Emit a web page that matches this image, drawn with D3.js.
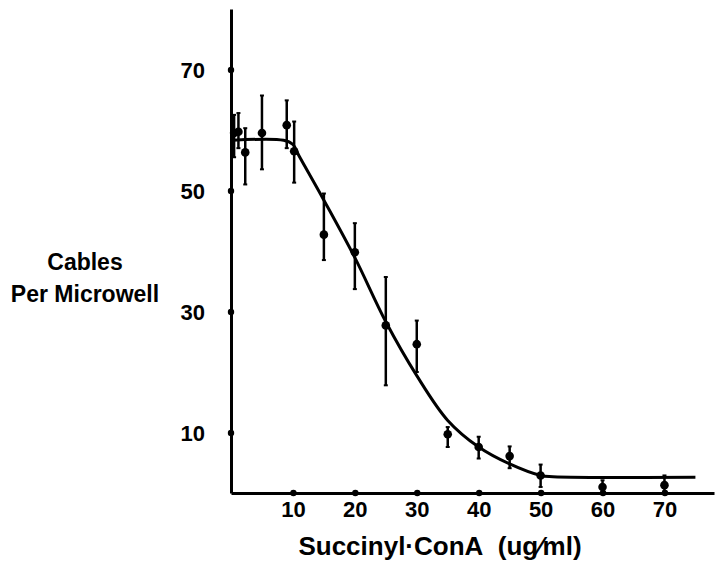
<!DOCTYPE html>
<html>
<head>
<meta charset="utf-8">
<script src="https://cdn.jsdelivr.net/npm/d3@7"></script>
<style>
  body { margin: 0; background: #fff; }
  svg text { font-family: "Liberation Sans", Arial, sans-serif; font-weight: bold; fill: #000; }
</style>
</head>
<body>
<div id="chart"></div>
<script>
// Data
var dose = [0.5, 1.2, 2.3, 5, 9, 10.2, 15, 20, 25, 30, 35, 40, 45, 50, 60, 70];
var cables = [59.5, 59.7, 56.3, 59.5, 60.8, 56.5, 42.7, 39.8, 27.7, 24.6, 9.7, 7.6, 6.1, 2.9, 1.0, 1.3];
var errLow = [55.5, 57, 51, 53.5, 57, 51.3, 38.5, 33.7, 17.8, 20, 7.6, 5.7, 4.1, 1.0, 0, 0.3];
var errHigh = [62.5, 62.8, 60.3, 65.7, 64.9, 61.4, 49.5, 44.6, 35.7, 28.5, 10.9, 9.3, 7.7, 4.7, 2.1, 2.9];

// fitted curve
var curveDose = [0.3, 8.5, 10, 11, 15, 20, 25, 30, 35, 40, 45, 50, 52, 75];
var curveCables = [58.3, 58.3, 57.6, 55.7, 48.4, 38.9, 28.3, 19.4, 12.0, 7.6, 4.8, 2.9, 2.7, 2.6];

var xTicks = [10, 20, 30, 40, 50, 60, 70];
var yTicks = [10, 30, 50, 70];

var render = function() {
  var width = 716;
  var height = 561;
  var margins = { top: 9, right: 2, bottom: 68, left: 231 };

  var svg = d3.select("#chart")
    .append("svg")
    .attr("width", width)
    .attr("height", height);

  var xScale = d3.scaleLinear()
    .domain([0, 78])
    .range([margins.left, width - margins.right]);

  var yScale = d3.scaleLinear()
    .domain([0, 80])
    .range([height - margins.bottom, margins.top]);

  // axes: dots instead of tick lines
  var xAxis = d3.axisBottom(xScale)
    .tickValues(xTicks)
    .tickSize(0)
    .tickPadding(8)
    .tickSizeOuter(0);

  var yAxis = d3.axisLeft(yScale)
    .tickValues(yTicks)
    .tickSize(0)
    .tickPadding(26)
    .tickSizeOuter(0);

  var gx = svg.append("g")
    .attr("class", "x axis")
    .attr("transform", `translate(0,${yScale(0)})`)
    .call(xAxis);

  var gy = svg.append("g")
    .attr("class", "y axis")
    .attr("transform", `translate(${xScale(0)},0)`)
    .call(yAxis);

  [gx, gy].forEach(function(g) {
    g.select(".domain").attr("stroke", "#000").attr("stroke-width", 3);
    g.selectAll(".tick text").style("font-size", "22px");
    g.selectAll(".tick").append("circle").attr("r", 3.2).attr("fill", "#000");
  });
  gy.selectAll(".tick text").attr("dy", "0.36em");
  gx.selectAll(".tick text").attr("dy", "0.72em");

  // fitted line
  var line = d3.line()
    .x((d, i) => xScale(curveDose[i]))
    .y(d => yScale(d))
    .curve(d3.curveCatmullRom.alpha(0.5));

  svg.append("path")
    .attr("d", line(curveCables))
    .attr("fill", "none")
    .attr("stroke", "#000")
    .attr("stroke-width", 3);

  // error bars
  var bars = svg.append("g").attr("class", "errorbars");
  bars.selectAll("line.bar")
    .data(cables)
    .enter()
    .append("line")
    .attr("class", "bar")
    .attr("x1", (d, i) => xScale(dose[i]))
    .attr("x2", (d, i) => xScale(dose[i]))
    .attr("y1", (d, i) => yScale(errLow[i]))
    .attr("y2", (d, i) => yScale(errHigh[i]))
    .attr("stroke", "#000")
    .attr("stroke-width", 2.5);

  [errLow, errHigh].forEach(function(arr) {
    bars.selectAll(null)
      .data(arr)
      .enter()
      .append("line")
      .attr("x1", (d, i) => xScale(dose[i]) - 2)
      .attr("x2", (d, i) => xScale(dose[i]) + 2)
      .attr("y1", d => yScale(d))
      .attr("y2", d => yScale(d))
      .attr("stroke", "#000")
      .attr("stroke-width", 2);
  });

  // points
  svg.append("g")
    .attr("class", "dots")
    .selectAll("circle")
    .data(cables)
    .enter()
    .append("circle")
    .attr("cx", (d, i) => xScale(dose[i]))
    .attr("cy", d => yScale(d))
    .attr("r", 4.3)
    .attr("fill", "#000");

  // axis titles
  var yTitle = svg.append("text")
    .attr("text-anchor", "middle")
    .style("font-size", "23px");
  yTitle.append("tspan").attr("x", 85).attr("y", 270).text("Cables");
  yTitle.append("tspan").attr("x", 85).attr("y", 302).text("Per Microwell");

  svg.append("text")
    .attr("x", 440)
    .attr("y", 555)
    .attr("text-anchor", "middle")
    .style("font-size", "26px")
    .text("Succinyl\u00b7ConA\u00a0\u00a0(ug\u2215ml)");
};

window.onload = render;
</script>
</body>
</html>
